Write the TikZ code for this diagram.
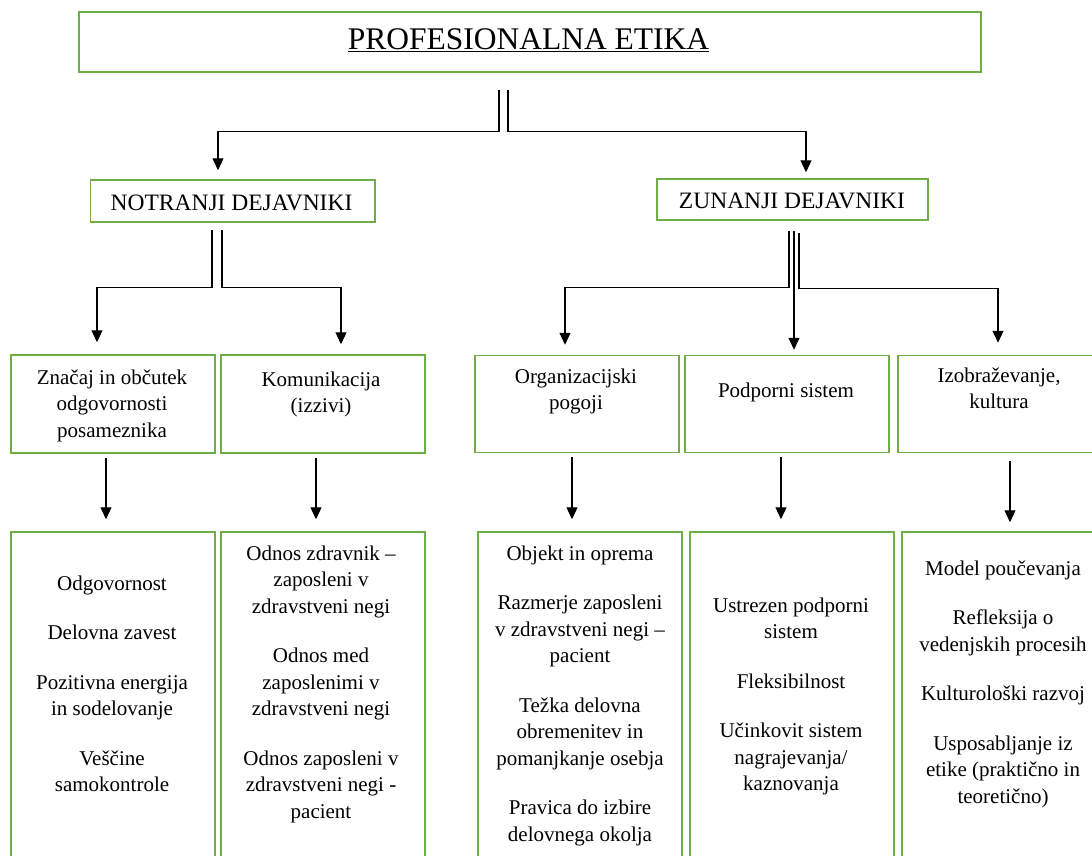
\documentclass[tikz,border=0pt]{standalone}
\usepackage{fontspec}
\setmainfont{Liberation Serif}
\usetikzlibrary{arrows.meta}
\definecolor{boxgreen}{RGB}{112,173,71}
\begin{document}
\begin{tikzpicture}[x=1pt,y=-1pt,
  box/.style={draw=boxgreen, line width=1.5pt, inner sep=0pt, rectangle},
  conn/.style={draw=black, line width=1.2pt, -{Triangle[length=12pt,width=11pt]}},
  lvtxt/.style={align=center, inner sep=0pt, anchor=north, font={\fontsize{21}{26.5}\selectfont}},
  toptxt/.style={anchor=base, inner sep=0pt, font={\fontsize{23.5}{28}\selectfont}}]
\useasboundingbox (0,0) rectangle (1092,856);
\fill[white] (0,0) rectangle (1092,856);
\clip (0,0) rectangle (1092,856);

% boxes
\node[box, minimum width=902pt, minimum height=60pt] (title) at (530,42) {};
\node[box, minimum width=284.5pt, minimum height=42pt] (n1) at (232.75,201) {};
\node[box, minimum width=271pt, minimum height=41pt] (n2) at (792.5,199.5) {};

\node[box, minimum width=204pt, minimum height=98pt] (a) at (113,404) {};
\node[box, minimum width=204pt, minimum height=98pt] (b) at (323,404) {};
\node[box, minimum width=204pt, minimum height=97pt] (c) at (577,404) {};
\node[box, minimum width=204pt, minimum height=97pt] (d) at (787,404) {};
\node[box, minimum width=202pt, minimum height=97pt] (e) at (999,404) {};

\node[box, minimum width=204pt, minimum height=368pt] (a4) at (113,716) {};
\node[box, minimum width=204pt, minimum height=368pt] (b4) at (323,716) {};
\node[box, minimum width=204pt, minimum height=368pt] (c4) at (580,716) {};
\node[box, minimum width=204pt, minimum height=368pt] (d4) at (792,716) {};
\node[box, minimum width=204pt, minimum height=368pt] (e4) at (1004,716) {};

% texts
\node[anchor=base, inner sep=0pt, font={\fontsize{31.5}{36}\selectfont}] (titletxt) at (528.5,49.5) {\underline{PROFESIONALNA ETIKA}};
\node[toptxt] (n1txt) at (231.5,210.7) {NOTRANJI DEJAVNIKI};
\node[toptxt] (n2txt) at (792,208.7) {ZUNANJI DEJAVNIKI};

\node[lvtxt] (atxt) at (112,364) {\rule{0pt}{20pt}Značaj in občutek\\odgovornosti\\posameznika};
\node[lvtxt] (btxt) at (321,366) {\rule{0pt}{20pt}Komunikacija\\(izzivi)};
\node[lvtxt] (ctxt) at (576,363) {\rule{0pt}{20pt}Organizacijski\\pogoji};
\node[lvtxt] (dtxt) at (786,377) {\rule{0pt}{20pt}Podporni sistem};
\node[lvtxt] (etxt) at (999,362) {\rule{0pt}{20pt}Izobraževanje,\\kultura};

\node[lvtxt] (a4txt) at (112,570) {\rule{0pt}{20pt}Odgovornost\\[23pt]Delovna zavest\\[23pt]Pozitivna energija\\in sodelovanje\\[23pt]Veščine\\samokontrole};
\node[lvtxt] (b4txt) at (321,540) {\rule{0pt}{20pt}Odnos zdravnik –\\zaposleni v\\zdravstveni negi\\[23pt]Odnos med\\zaposlenimi v\\zdravstveni negi\\[23pt]Odnos zaposleni v\\zdravstveni negi -\\pacient};
\node[lvtxt] (c4txt) at (580,540) {\rule{0pt}{20pt}Objekt in oprema\\[23pt]Razmerje zaposleni\\v zdravstveni negi –\\pacient\\[23pt]Težka delovna\\obremenitev in\\pomanjkanje osebja\\[23pt]Pravica do izbire\\delovnega okolja};
\node[lvtxt] (d4txt) at (791,592) {\rule{0pt}{20pt}Ustrezen podporni\\sistem\\[23pt]Fleksibilnost\\[23pt]Učinkovit sistem\\nagrajevanja/\\kaznovanja};
\node[lvtxt] (e4txt) at (1003,555) {\rule{0pt}{20pt}Model poučevanja\\[23pt]Refleksija o\\vedenjskih procesih\\[23pt]Kulturološki razvoj\\[23pt]Usposabljanje iz\\etike (praktično in\\teoretično)};

% connectors: title -> level 2
\draw[conn] ([xshift=-31pt,yshift=-17pt]title.south) -- ++(0,42) -| ([xshift=-14.75pt,yshift=9pt]n1.north);
\draw[conn] ([xshift=-22pt,yshift=-17pt]title.south) -- ++(0,42) -| ([xshift=13.5pt,yshift=6pt]n2.north);

% level 2 -> level 3
\draw[conn] ([xshift=-20.75pt,yshift=-7pt]n1.south) -- ++(0,58) -| ([xshift=-16pt,yshift=12pt]a.north);
\draw[conn] ([xshift=-10.75pt,yshift=-7pt]n1.south) -- ++(0,58) -| ([xshift=18pt,yshift=10pt]b.north);
\draw[conn] ([xshift=-3.5pt,yshift=-10pt]n2.south) -- ++(0,57) -| ([xshift=-12pt,yshift=10pt]c.north);
\draw[conn] ([xshift=1.5pt,yshift=-10pt]n2.south) -- ([xshift=7pt,yshift=5pt]d.north);
\draw[conn] ([xshift=6.5pt,yshift=-12pt]n2.south) -- ++(0,56) -| ([xshift=-1pt,yshift=12pt]e.north);

% level 3 -> level 4
\draw[conn] ([xshift=-7pt,yshift=-4pt]a.south) -- ([xshift=-7pt,yshift=12pt]a4.north);
\draw[conn] ([xshift=-7pt,yshift=-4pt]b.south) -- ([xshift=-7pt,yshift=12pt]b4.north);
\draw[conn] ([xshift=-5pt,yshift=-4pt]c.south) -- ([xshift=-8pt,yshift=12pt]c4.north);
\draw[conn] ([xshift=-6pt,yshift=-4pt]d.south) -- ([xshift=-11pt,yshift=12pt]d4.north);
\draw[conn] ([xshift=11pt,yshift=-8pt]e.south) -- ([xshift=6pt,yshift=9pt]e4.north);
\end{tikzpicture}
\end{document}
